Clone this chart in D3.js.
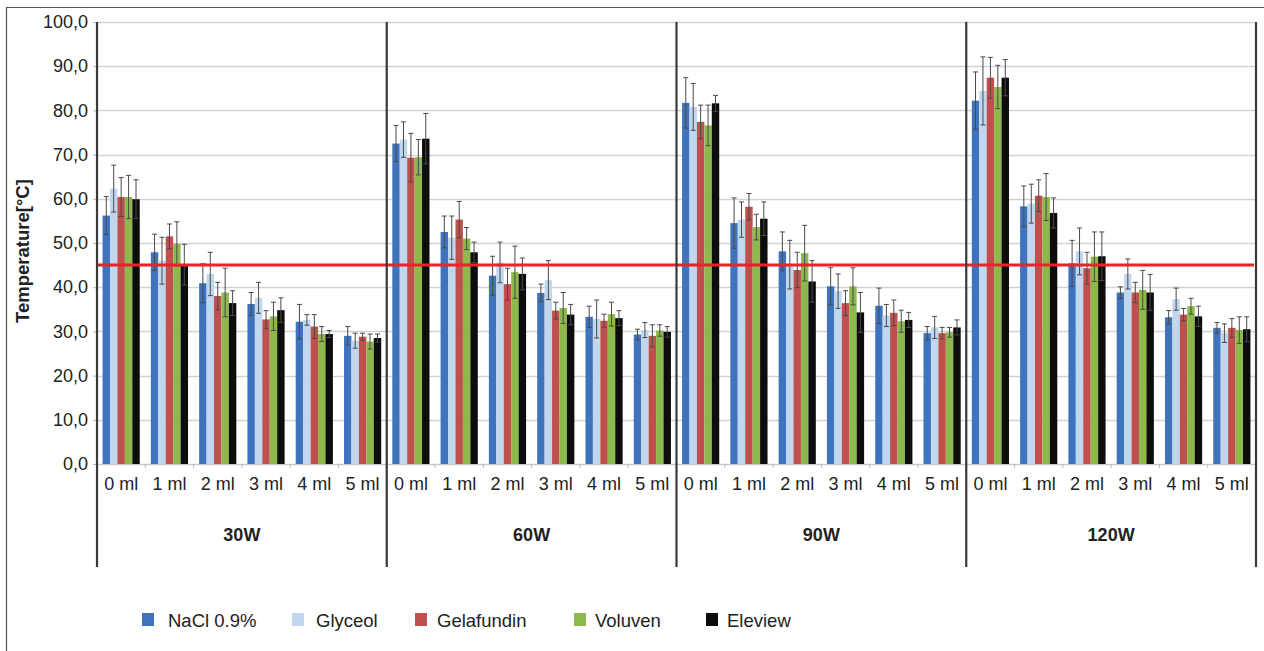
<!DOCTYPE html>
<html><head><meta charset="utf-8">
<script src="https://cdn.jsdelivr.net/npm/d3@7"></script>
<style>
html,body{margin:0;padding:0;background:#fff;}
svg{display:block;font-family:"Liberation Sans",Arial,sans-serif;}
</style></head>
<body>
<svg id="chart" width="1264" height="651"></svg>
<script>
// ---------- data ----------
const powers = ["30W", "60W", "90W", "120W"];
const volumes = ["0 ml", "1 ml", "2 ml", "3 ml", "4 ml", "5 ml"];
const seriesNames = ["NaCl 0.9%", "Glyceol", "Gelafundin", "Voluven", "Eleview"];
const yTicks = [0, 10, 20, 30, 40, 50, 60, 70, 80, 90, 100];
const threshold = 45;

// values ordered 30W(0..5 ml), 60W, 90W, 120W
const naclMean = [56.2, 47.9, 40.9, 36.2, 32.2, 29.0, 72.5, 52.5, 42.6, 38.7, 33.3, 29.3, 81.7, 54.5, 48.1, 40.2, 35.8, 29.6, 82.2, 58.3, 45.4, 38.8, 33.2, 30.8];
const naclErr  = [4.3, 4.1, 4.4, 2.6, 3.9, 2.1, 4.1, 3.6, 4.4, 2.0, 2.4, 1.2, 5.7, 5.7, 4.4, 4.2, 4.0, 1.5, 6.5, 4.6, 5.2, 1.3, 1.5, 1.2];
const glyceolMean = [62.3, 46.0, 43.0, 37.6, 32.6, 27.9, 73.4, 51.2, 45.6, 41.6, 32.8, 30.3, 80.8, 55.3, 45.1, 39.1, 33.6, 30.9, 84.4, 58.9, 48.1, 43.0, 37.3, 29.6];
const glyceolErr  = [5.3, 5.3, 4.9, 3.5, 1.2, 1.7, 4.0, 4.9, 4.6, 4.4, 4.3, 1.7, 5.3, 4.0, 5.5, 3.9, 2.5, 2.5, 7.7, 4.4, 5.3, 3.4, 2.5, 2.1];
const gelaMean = [60.4, 51.5, 38.0, 32.7, 31.1, 28.8, 69.3, 55.3, 40.7, 34.7, 32.4, 29.0, 77.4, 58.2, 43.9, 36.4, 34.2, 29.6, 87.4, 60.7, 44.3, 38.8, 33.8, 30.8];
const gelaErr  = [4.4, 2.8, 3.1, 2.0, 2.7, 0.8, 5.5, 4.1, 3.6, 1.9, 1.5, 2.5, 3.8, 3.0, 4.0, 2.8, 2.9, 1.3, 4.6, 3.6, 3.6, 2.3, 1.4, 2.1];
const voluvenMean = [60.4, 49.8, 38.8, 33.4, 29.4, 27.7, 69.4, 51.0, 43.4, 35.3, 33.9, 30.2, 76.6, 53.6, 47.7, 40.2, 32.3, 29.8, 85.3, 60.4, 46.9, 39.4, 35.7, 30.3];
const voluvenErr  = [4.9, 5.0, 5.5, 3.2, 1.7, 1.7, 4.0, 2.5, 5.9, 3.5, 2.7, 1.3, 4.6, 2.9, 6.3, 4.2, 2.5, 1.1, 4.9, 5.3, 5.6, 4.4, 1.8, 3.0];
const eleviewMean = [59.9, 45.1, 36.4, 34.8, 29.4, 28.5, 73.6, 47.9, 43.0, 33.8, 33.0, 29.9, 81.6, 55.5, 41.3, 34.3, 32.6, 30.9, 87.4, 56.8, 47.0, 38.8, 33.4, 30.5];
const eleviewErr  = [4.4, 4.6, 2.8, 2.8, 0.8, 0.9, 5.7, 2.3, 3.6, 2.3, 1.7, 1.2, 1.8, 3.8, 4.7, 4.5, 1.7, 1.7, 4.1, 3.4, 5.5, 4.1, 2.3, 2.8];

// ---------- styles / layout ----------
const colors = ["#3f74bd", "#c0d7ee", "#c0504d", "#8db84c", "#0d0d0d"];
const legendX = [142, 292, 415, 574, 706];
const legendTextGap = [26, 24, 22, 21, 21];

const means = [naclMean, glyceolMean, gelaMean, voluvenMean, eleviewMean];
const errs = [naclErr, glyceolErr, gelaErr, voluvenErr, eleviewErr];

const plotL = 97, plotR = 1256, plotT = 22, plotB = 464;
const svg = d3.select("#chart");

// outer frame
svg.append("path").attr("d", "M6.5,651 V7.5 H1264").attr("fill", "none").attr("stroke", "#555").attr("stroke-width", 1.2);

const y = d3.scaleLinear().domain([0, 100]).range([plotB, plotT]);
const cats = [];
powers.forEach(p => volumes.forEach(v => cats.push(p + "|" + v)));
const xCat = d3.scaleBand().domain(cats).range([plotL, plotR]).padding(0);
const xPow = d3.scaleBand().domain(powers).range([plotL, plotR]).padding(0);
const bw = xCat.bandwidth();
const xSer = d3.scaleBand().domain(seriesNames).range([bw * 0.115, bw * 0.885]).padding(0);

// gridlines
svg.append("g").selectAll("line").data(yTicks).join("line")
  .attr("x1", plotL).attr("x2", plotR - 1)
  .attr("y1", d => Math.round(y(d)) + 0.5).attr("y2", d => Math.round(y(d)) + 0.5)
  .attr("stroke", "#d3d3d3").attr("stroke-width", 1.6);

// y axis ticks and labels
const yAxis = d3.axisLeft(y).tickValues(yTicks).tickSize(4).tickPadding(5)
  .tickFormat(d => d3.format(".1f")(d).replace(".", ","));
const ga = svg.append("g").attr("transform", `translate(${plotL},0)`).call(yAxis);
ga.select(".domain").remove();
ga.selectAll(".tick line").attr("stroke", "#bbb");
ga.selectAll(".tick text").attr("font-size", 18).attr("fill", "#222")
  .attr("font-family", "Liberation Sans, Arial, sans-serif");

// y title
svg.append("text").attr("transform", `translate(29,251) rotate(-90)`)
  .attr("text-anchor", "middle").attr("font-size", 18.5).attr("font-weight", "bold").attr("fill", "#222")
  .text("Temperature[°C]");

// bars
const barData = [];
cats.forEach((c, i) => seriesNames.forEach((s, j) => barData.push({c, s, j, v: means[j][i], e: errs[j][i]})));
svg.append("g").selectAll("rect").data(barData).join("rect")
  .attr("x", d => xCat(d.c) + xSer(d.s))
  .attr("width", xSer.bandwidth())
  .attr("y", d => y(d.v)).attr("height", d => y(0) - y(d.v))
  .attr("fill", d => colors[d.j]);

// error bars
const eg = svg.append("g").attr("stroke", "#4a4a4a").attr("stroke-width", 1);
barData.forEach(d => {
  const cx = xCat(d.c) + xSer(d.s) + xSer.bandwidth() / 2;
  eg.append("line").attr("x1", cx).attr("x2", cx).attr("y1", y(d.v + d.e)).attr("y2", y(d.v - d.e));
  eg.append("line").attr("x1", cx - 2.5).attr("x2", cx + 2.5).attr("y1", y(d.v + d.e)).attr("y2", y(d.v + d.e));
  eg.append("line").attr("x1", cx - 2.5).attr("x2", cx + 2.5).attr("y1", y(d.v - d.e)).attr("y2", y(d.v - d.e));
});

// threshold line
svg.append("line").attr("x1", plotL).attr("x2", plotR - 2)
  .attr("y1", y(threshold)).attr("y2", y(threshold))
  .attr("stroke", "#e8232a").attr("stroke-width", 3);

// baseline & small category ticks
svg.append("line").attr("x1", plotL).attr("x2", plotR).attr("y1", plotB + 0.5).attr("y2", plotB + 0.5)
  .attr("stroke", "#c8c8c8").attr("stroke-width", 1);
svg.append("g").selectAll("line").data(cats).join("line")
  .attr("x1", d => xCat(d)).attr("x2", d => xCat(d))
  .attr("y1", plotB).attr("y2", plotB + 4).attr("stroke", "#bbb");

// category labels
svg.append("g").selectAll("text").data(cats).join("text")
  .attr("x", d => xCat(d) + bw / 2).attr("y", 490)
  .attr("text-anchor", "middle").attr("font-size", 18).attr("fill", "#222")
  .text(d => d.split("|")[1]);

// group labels
svg.append("g").selectAll("text").data(powers).join("text")
  .attr("x", d => xPow(d) + xPow.bandwidth() / 2).attr("y", 541)
  .attr("text-anchor", "middle").attr("font-size", 18).attr("font-weight", "bold").attr("fill", "#222")
  .text(d => d);

// separators (left axis, group boundaries, right edge)
const seps = powers.map(p => xPow(p)).concat([plotR]);
svg.append("g").selectAll("line").data(seps).join("line")
  .attr("x1", d => d).attr("x2", d => d).attr("y1", plotT).attr("y2", 567)
  .attr("stroke", "#3a3a3a").attr("stroke-width", 2.2);

// legend
const lg = svg.append("g");
seriesNames.forEach((s, j) => {
  lg.append("rect").attr("x", legendX[j]).attr("y", 613).attr("width", 12).attr("height", 13).attr("fill", colors[j]);
  lg.append("text").attr("x", legendX[j] + legendTextGap[j]).attr("y", 627)
    .attr("font-size", 18.5).attr("fill", "#222").text(s);
});
</script>
</body></html>
